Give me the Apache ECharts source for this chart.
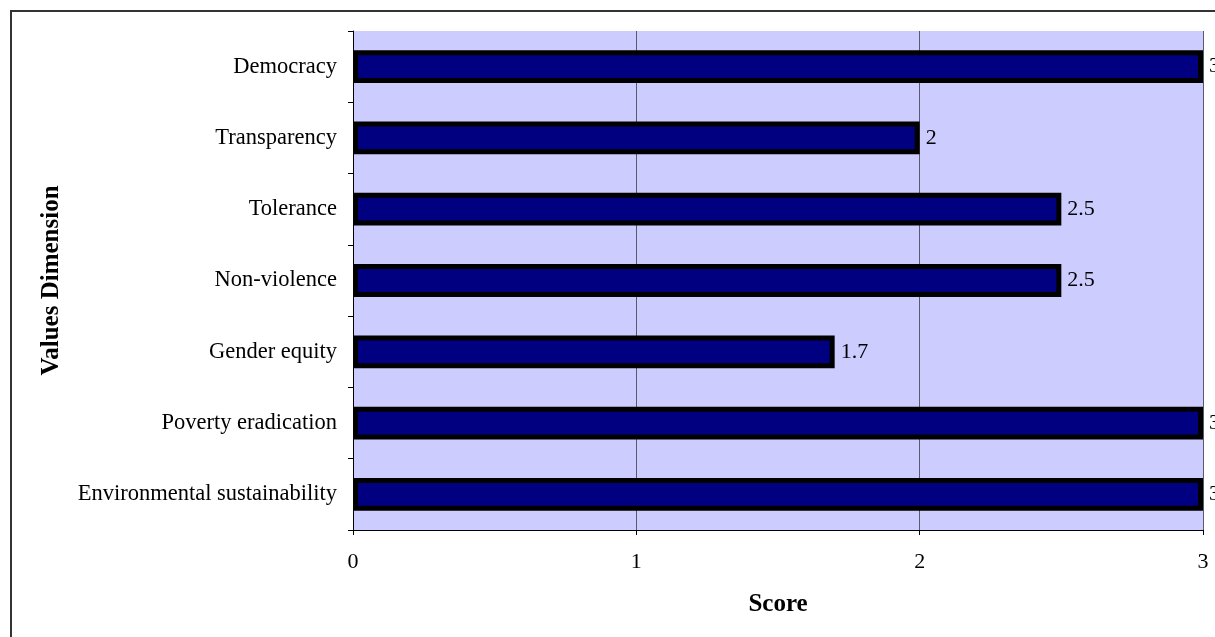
<!DOCTYPE html>
<html>
<head>
<meta charset="utf-8">
<script src="https://cdn.jsdelivr.net/npm/echarts@6/dist/echarts.min.js"></script>
<style>
  html, body { margin: 0; padding: 0; background: #fff; }
  #chart { width: 1215px; height: 637px; }
</style>
</head>
<body>
<div id="chart"></div>
<script>
// Values dimensions, listed bottom to top as drawn on the category axis
const categories = [
  'Environmental sustainability',
  'Poverty eradication',
  'Gender equity',
  'Non-violence',
  'Tolerance',
  'Transparency',
  'Democracy'
];
const scores = [3, 3, 1.7, 2.5, 2.5, 2, 3];
const scoreTicks = [0, 1, 2, 3];

const serif = '"Liberation Serif", "DejaVu Serif", serif';
const chart = echarts.init(document.getElementById('chart'));

chart.setOption({
  animation: false,
  backgroundColor: '#ffffff',
  textStyle: { fontFamily: serif },
  graphic: [{
    type: 'rect',
    shape: { x: 11, y: 11, width: 1400, height: 800 },
    style: { fill: 'none', stroke: '#333333', lineWidth: 2 },
    z: 100
  }],
  grid: {
    left: 353, right: 12, top: 31, bottom: 107,
    show: true, backgroundColor: '#CCCCFF', borderWidth: 0
  },
  xAxis: {
    type: 'value',
    min: scoreTicks[0],
    max: scoreTicks[scoreTicks.length - 1],
    interval: 1,
    name: 'Score',
    nameLocation: 'middle',
    nameGap: 62,
    nameMoveOverlap: false,
    nameTextStyle: { fontFamily: serif, fontSize: 25, fontWeight: 'bold', color: '#000' },
    axisLine: { show: true, lineStyle: { color: '#000', width: 1 } },
    axisTick: { show: true, length: 5, lineStyle: { color: '#000' } },
    axisLabel: { fontFamily: serif, fontSize: 22, color: '#000', margin: 21 },
    splitLine: { show: true, lineStyle: { color: '#5a5a6a', width: 1 } }
  },
  yAxis: {
    type: 'category',
    data: categories,
    name: 'Values Dimension',
    nameLocation: 'middle',
    nameGap: 289,
    nameMoveOverlap: false,
    nameRotate: 90,
    nameTextStyle: { fontFamily: serif, fontSize: 25, fontWeight: 'bold', color: '#000' },
    axisLine: { show: true, lineStyle: { color: '#000', width: 1 } },
    axisTick: { show: true, length: 5, alignWithLabel: false, lineStyle: { color: '#000' } },
    axisLabel: { fontFamily: serif, fontSize: 22.5, color: '#000', margin: 16 },
    splitLine: { show: false }
  },
  series: [{
    type: 'bar',
    data: scores,
    barWidth: '46%',
    itemStyle: { color: '#000080', borderColor: '#000', borderWidth: 5 },
    label: {
      show: true,
      position: 'right',
      distance: 6,
      fontFamily: serif,
      fontSize: 22,
      color: '#000'
    }
  }]
});
</script>
</body>
</html>
